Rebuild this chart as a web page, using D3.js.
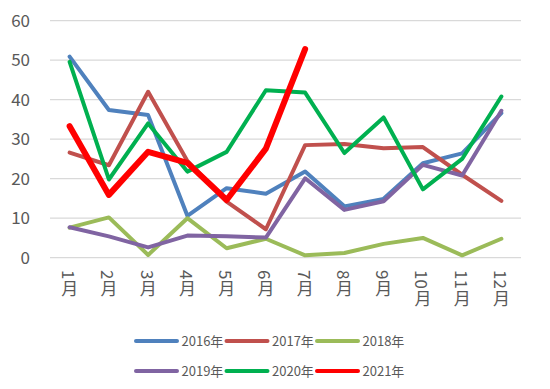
<!DOCTYPE html>
<html><head><meta charset="utf-8">
<script src="https://cdn.jsdelivr.net/npm/d3@7"></script>
<style>body{margin:0;background:#fff;} svg{display:block;}</style>
</head><body>
<svg id="chart" width="550" height="389"></svg>
<script>
const months = ["1月","2月","3月","4月","5月","6月","7月","8月","9月","10月","11月","12月"];
const yTicks = [0,10,20,30,40,50,60];
const seriesNames = ["2016年","2017年","2018年","2019年","2020年","2021年"];
const seriesColors = ["#4f81bd","#c0504d","#9bbb59","#8064a2","#00b050","#ff0000"];
const s2016 = [50.9,37.4,36.1,10.6,17.6,16.2,21.8,13.0,14.9,23.9,26.4,36.6];
const s2017 = [26.6,23.4,42.0,24.5,14.2,7.2,28.5,28.8,27.7,28.0,21.0,14.4];
const s2018 = [7.6,10.2,0.7,10.0,2.4,4.8,0.6,1.2,3.5,5.0,0.6,4.8];
const s2019 = [7.7,5.4,2.6,5.6,5.4,5.1,20.1,12.1,14.3,23.5,20.8,37.2];
const s2020 = [49.6,19.8,34.0,21.8,26.8,42.4,41.8,26.5,35.5,17.3,25.0,40.8];
const s2021 = [33.3,15.9,26.8,24.0,14.6,27.6,52.8];
const seriesValues = [s2016,s2017,s2018,s2019,s2020,s2021];
const seriesWidths = [4,4,4,4,4,6];

const svg = d3.select("#chart");
const font = "'Noto Sans CJK SC','Noto Sans',sans-serif";
const x = d3.scaleBand().domain(months).range([50,521]);
const y = d3.scaleLinear().domain([0,60]).range([257.7,20.7]);

// grid
svg.append("g").selectAll("line").data(yTicks).join("line")
  .attr("x1",50).attr("x2",521)
  .attr("y1",d=>y(d)).attr("y2",d=>y(d))
  .attr("stroke","#d9d9d9").attr("stroke-width",1.3);

// y labels
svg.append("g").selectAll("text").data(yTicks).join("text")
  .attr("x",30).attr("y",d=>y(d)).attr("dy","0.36em")
  .attr("text-anchor","end").attr("fill","#595959")
  .attr("font-family",font).attr("font-size",17).text(d=>d);

// x labels: digits rotated, 月 upright
const xl = svg.append("g");
months.forEach(m=>{
  const cx = x(m)+x.bandwidth()/2;
  const digits = m.replace("月","");
  const t = xl.append("text")
    .attr("transform",`translate(${cx},270) rotate(90)`)
    .attr("x",0).attr("y",0).attr("dominant-baseline","central")
    .attr("fill","#595959").attr("font-family",font).attr("font-size",17)
    .text(digits);
  const w = t.node().getComputedTextLength();
  xl.append("text").attr("x",cx).attr("y",270+w+1).attr("dy","0.88em")
    .attr("text-anchor","middle").attr("fill","#595959")
    .attr("font-family",font).attr("font-size",17).text("月");
});

// lines
const line = d3.line().x((d,i)=>x(months[i])+x.bandwidth()/2).y(d=>y(d));
svg.append("g").selectAll("path").data(seriesValues).join("path")
  .attr("d",d=>line(d)).attr("fill","none")
  .attr("stroke",(d,i)=>seriesColors[i])
  .attr("stroke-width",(d,i)=>seriesWidths[i])
  .attr("stroke-linejoin","round").attr("stroke-linecap","round");

// legend
const lg = svg.append("g");
seriesNames.forEach((n,i)=>{
  const col = i%3, row = Math.floor(i/3);
  const lx = 136 + col*90.5, ly = 341 + row*30;
  lg.append("line").attr("x1",lx).attr("x2",lx+41).attr("y1",ly).attr("y2",ly)
    .attr("stroke",seriesColors[i]).attr("stroke-width",4).attr("stroke-linecap","round");
  lg.append("text").attr("x",lx+45.5).attr("y",ly).attr("dy","0.35em")
    .attr("fill","#595959").attr("font-family",font).attr("font-size",13).text(n);
});
</script>
</body></html>
